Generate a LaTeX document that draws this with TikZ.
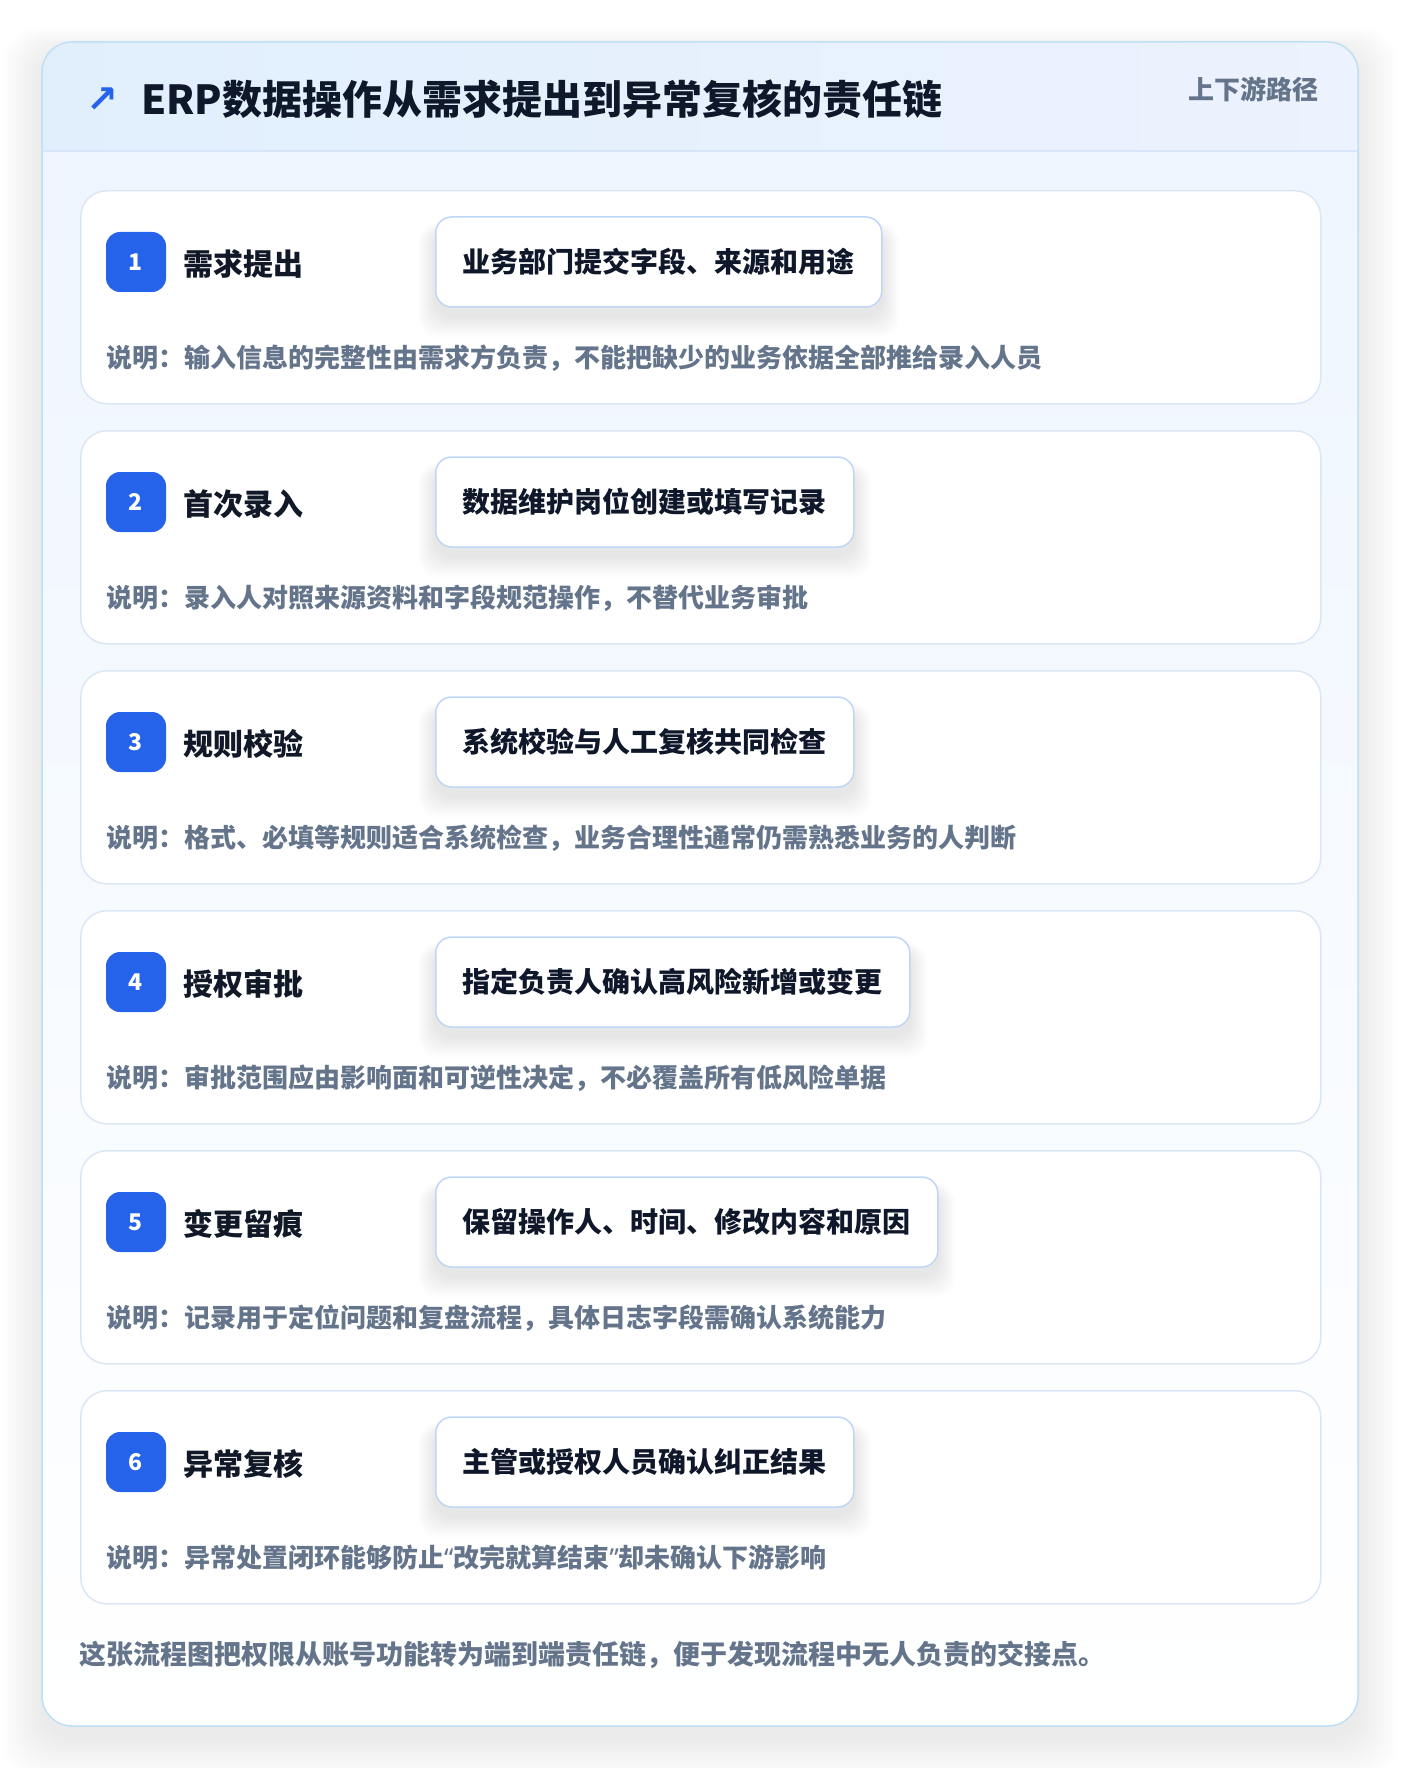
\documentclass[tikz,border=0pt]{standalone}
\usepackage{fontspec}
\setmainfont{Noto Sans CJK SC}
\newfontfamily\symfont{DejaVu Sans}
\newfontfamily\latinq{Noto Sans}
\definecolor{badgeblue}{HTML}{2563EB}
\definecolor{titledark}{HTML}{0F172A}
\definecolor{labeldark}{HTML}{111827}
\definecolor{notegray}{HTML}{64748B}
\definecolor{boxborder}{HTML}{BFD6F6}
\definecolor{cardborder}{HTML}{DBE7F5}
\definecolor{outerborder}{HTML}{BDE0F5}
\definecolor{hdrL}{HTML}{E1EFFD}
\definecolor{hdrR}{HTML}{ECF2FE}
\definecolor{hdrline}{HTML}{D6E6F8}
\definecolor{bodyT}{HTML}{EFF6FF}
\pgfdeclarelayer{base}
\pgfdeclarelayer{shade}
\pgfsetlayers{base,shade,main}
\begin{document}
\begin{tikzpicture}[x=1pt,y=-1pt,
  stepcard/.style={draw=cardborder, line width=1.5pt, fill=white, rounded corners=26pt,
    minimum width=1240pt, minimum height=213pt, anchor=north west, inner sep=0pt},
  badge/.style={fill=badgeblue, rounded corners=14pt, minimum size=60pt, inner sep=0pt,
    text=white, font=\bfseries\fontsize{23}{27}\selectfont},
  steplabel/.style={anchor=west, inner sep=0pt, text=labeldark, font=\bfseries\fontsize{30}{36}\selectfont},
  actbox/.style={anchor=west, draw=boxborder, line width=1.5pt, fill=white, rounded corners=16pt,
    minimum height=90pt, inner xsep=27pt, inner ysep=0pt, text=titledark,
    font=\bfseries\fontsize{28}{34}\selectfont},
  notetext/.style={anchor=west, inner sep=0pt, text=notegray, font=\bfseries\fontsize{26}{32}\selectfont},
  softshadow/.style={fill=black, opacity=0.008}
]
\useasboundingbox (0,0) rectangle (1400,1768);
\begin{pgfonlayer}{base}
\fill[white] (0,0) rectangle (1400,1768);
% outer card shadow
\foreach \k in {1,...,20} {
  \fill[black, opacity=0.0045, rounded corners=34pt]
    ({42-2*\k},{52-1.2*\k}) rectangle ({1358+2*\k},{1738+2*\k});
}
% outer card
\fill[white, rounded corners=30pt] (42,42) rectangle (1358,1726);
\begin{scope}
  \clip[rounded corners=30pt] (42,42) rectangle (1358,1726);
  \shade[left color=hdrL, right color=hdrR] (42,42) rectangle (1358,151);
  \shade[top color=bodyT, bottom color=white] (42,151) rectangle (1358,1726);
\end{scope}
\draw[hdrline, line width=1.5pt] (42,151) -- (1358,151);
\draw[outerborder, line width=1.5pt, rounded corners=30pt] (42,42) rectangle (1358,1726);
\end{pgfonlayer}
% header
\node[inner sep=0pt, text=badgeblue, font=\symfont\bfseries\fontsize{38}{44}\selectfont] (icon) at (102,100) {↗};
\node[anchor=west, inner sep=0pt, text=titledark, font=\bfseries\fontsize{40}{48}\selectfont] (title) at (141,99) {ERP数据操作从需求提出到异常复核的责任链};
\node[anchor=east, inner sep=0pt, text=notegray, font=\bfseries\fontsize{26}{32}\selectfont] (subtitle) at (1319,89) {上下游路径};
% steps
\foreach \i/\lab/\boxt/\note in {
 1/需求提出/业务部门提交字段、来源和用途/说明：输入信息的完整性由需求方负责，不能把缺少的业务依据全部推给录入人员,
 2/首次录入/数据维护岗位创建或填写记录/说明：录入人对照来源资料和字段规范操作，不替代业务审批,
 3/规则校验/系统校验与人工复核共同检查/说明：格式、必填等规则适合系统检查，业务合理性通常仍需熟悉业务的人判断,
 4/授权审批/指定负责人确认高风险新增或变更/说明：审批范围应由影响面和可逆性决定，不必覆盖所有低风险单据,
 5/变更留痕/保留操作人、时间、修改内容和原因/说明：记录用于定位问题和复盘流程，具体日志字段需确认系统能力,
 6/异常复核/主管或授权人员确认纠正结果/说明：异常处置闭环能够防止{\latinq “}改完就算结束{\latinq ”}却未确认下游影响}
{
  \pgfmathsetmacro\ytop{190+240*(\i-1)}
  \begin{pgfonlayer}{base}
    \node[stepcard] (card\i) at (80,\ytop) {};
  \end{pgfonlayer}
  \node[badge] (badge\i) at (136,{\ytop+72}) {\i};
  \node[steplabel] (label\i) at (183,{\ytop+74}) {\lab};
  \node[actbox] (box\i) at (435,{\ytop+72}) {\boxt};
  \begin{pgfonlayer}{shade}
    \foreach \k in {1,...,12} {
      \fill[softshadow, rounded corners=20pt]
        ([xshift={-1.4*\k pt}, yshift={-12pt+0.4*\k pt}]box\i.north west)
        rectangle ([xshift={1.4*\k pt}, yshift={-8pt-1.8*\k pt}]box\i.south east);
    }
  \end{pgfonlayer}
  \node[notetext] (note\i) at (106,{\ytop+168}) {\note};
}
% footer
\node[anchor=west, inner sep=0pt, text=notegray, font=\bfseries\fontsize{27}{32}\selectfont] (footer) at (79,1655) {这张流程图把权限从账号功能转为端到端责任链，便于发现流程中无人负责的交接点。};
\end{tikzpicture}
\end{document}
